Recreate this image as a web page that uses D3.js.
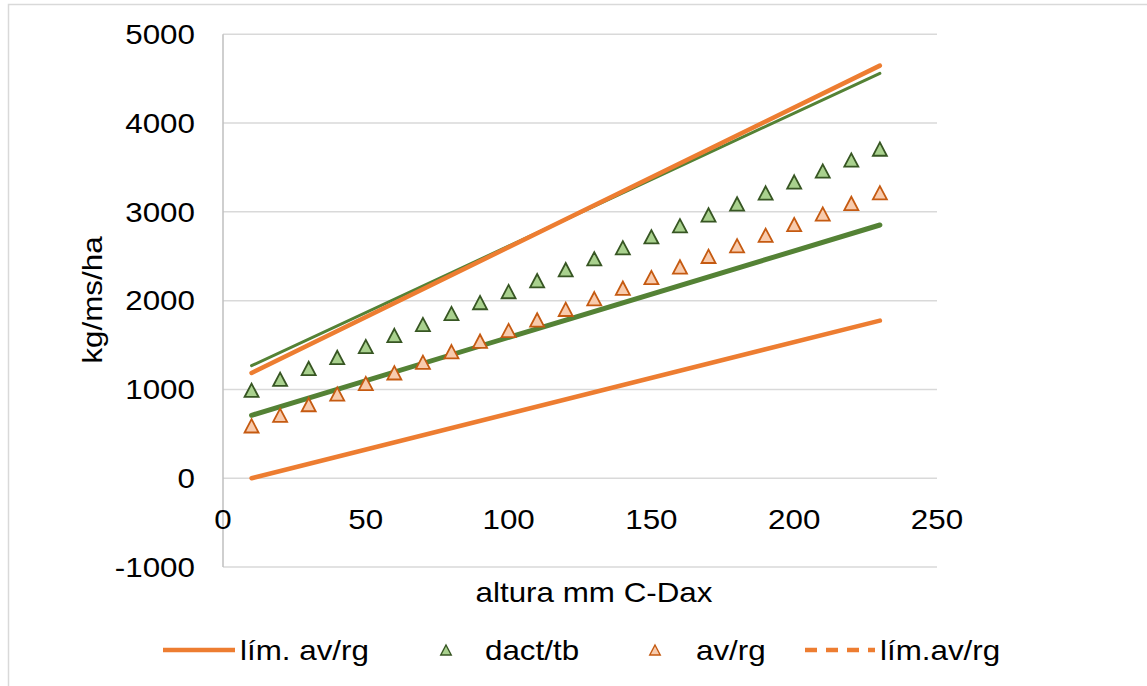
<!DOCTYPE html>
<html>
<head>
<meta charset="utf-8">
<script src="https://cdn.jsdelivr.net/npm/d3@7"></script>
<style>
  html, body { margin: 0; padding: 0; background: #fff; }
  svg { display: block; font-family: "Liberation Sans", Arial, sans-serif; }
</style>
</head>
<body>
<svg id="chart" width="1147" height="686"></svg>
<script>
// Plant height (mm, C-Dax) against dry matter (kg/ms/ha)
const heights = [10, 20, 30, 40, 50, 60, 70, 80, 90, 100, 110, 120,
                 130, 140, 150, 160, 170, 180, 190, 200, 210, 220, 230];
const dactTb = [990, 1114, 1237, 1361, 1484, 1608, 1731, 1855, 1978, 2102, 2225, 2349,
                2472, 2596, 2719, 2843, 2966, 3090, 3213, 3337, 3460, 3584, 3707];
const avRg = [590, 709, 829, 948, 1067, 1187, 1306, 1425, 1544, 1664, 1783, 1902,
              2022, 2141, 2260, 2380, 2499, 2618, 2737, 2857, 2976, 3095, 3215];

// Limit lines, given at their two ends
const limitX = [10, 230];
const limAvRgLow = [0, 1775];
const limAvRgHigh = [1186, 4647];
const limDactLow = [709, 2852];
const limDactHigh = [1267, 4561];

const xTicks = [0, 50, 100, 150, 200, 250];
const yTicks = [-1000, 0, 1000, 2000, 3000, 4000, 5000];
const legendLabels = ["lím. av/rg", "dact/tb", "av/rg", "lím.av/rg"];
const xTitle = "altura mm C-Dax";
const yTitle = "kg/ms/ha";

const ORANGE = "#ED7D31";
const GREEN = "#548235";
const FONT_SIZE = 28;
const STRETCH = 1.12;   // text is set slightly wide

const svg = d3.select("#chart");

// text helper: places a (horizontally widened) label at x,y
function label(parent, px, py, str, anchor, angle) {
  parent.append("text")
    .attr("transform", `translate(${px},${py}) rotate(${angle || 0}) scale(${STRETCH},1)`)
    .attr("dy", "0.35em")
    .attr("text-anchor", anchor || "start")
    .attr("font-size", FONT_SIZE)
    .attr("fill", "#000")
    .text(str);
}

// chart frame
svg.append("rect")
  .attr("x", 8.5).attr("y", 4.5)
  .attr("width", 1150).attr("height", 690)
  .attr("fill", "#fff").attr("stroke", "#D9D9D9").attr("stroke-width", 1.5);

const x = d3.scaleLinear().domain([0, 250]).range([223, 937]);
const y = d3.scaleLinear().domain([-1000, 5000]).range([567, 34.3]);

// horizontal gridlines
svg.append("g")
  .selectAll("line")
  .data(yTicks)
  .join("line")
  .attr("x1", x(0)).attr("x2", x(250))
  .attr("y1", d => y(d)).attr("y2", d => y(d))
  .attr("stroke", "#D9D9D9").attr("stroke-width", 1.5);

// vertical axis line
svg.append("line")
  .attr("x1", x(0)).attr("x2", x(0))
  .attr("y1", y(5000)).attr("y2", y(-1000))
  .attr("stroke", "#BFBFBF").attr("stroke-width", 1.5);

// tick labels
const yLab = svg.append("g");
yTicks.forEach(t => label(yLab, 195, y(t), t, "end"));
const xLab = svg.append("g");
xTicks.forEach(t => label(xLab, x(t), 519, t, "middle"));

// axis titles
label(svg, 594, 592, xTitle, "middle");
label(svg, 92, 300, yTitle, "middle", -90);

// limit lines
const line = d3.line().x(d => x(d[0])).y(d => y(d[1]));
const limits = [
  { vals: limAvRgLow, color: ORANGE, w: 4.5 },
  { vals: limDactLow, color: GREEN, w: 5 },
  { vals: limDactHigh, color: GREEN, w: 3 },
  { vals: limAvRgHigh, color: ORANGE, w: 4.5 }
];
svg.append("g")
  .selectAll("path")
  .data(limits)
  .join("path")
  .attr("d", d => line(limitX.map((h, i) => [h, d.vals[i]])))
  .attr("fill", "none")
  .attr("stroke", d => d.color)
  .attr("stroke-width", d => d.w)
  .attr("stroke-linecap", "round");

// triangle markers
function tri(cx, cy, s) {
  const h = s * 0.95;
  return `M${cx},${cy - h / 2}L${cx + s / 2},${cy + h / 2}L${cx - s / 2},${cy + h / 2}Z`;
}
const markerSets = [
  { vals: dactTb, fill: "#A9D18E", stroke: "#375623" },
  { vals: avRg, fill: "#F8CBAD", stroke: "#C55A11" }
];
markerSets.forEach(s => {
  svg.append("g")
    .selectAll("path")
    .data(heights.map((h, i) => [h, s.vals[i]]))
    .join("path")
    .attr("d", d => tri(x(d[0]), y(d[1]), 14))
    .attr("fill", s.fill)
    .attr("stroke", s.stroke)
    .attr("stroke-width", 1.8)
    .attr("stroke-linejoin", "miter");
});

// legend
const ly = 650;
const lg = svg.append("g");
lg.append("line").attr("x1", 163).attr("x2", 235).attr("y1", ly).attr("y2", ly)
  .attr("stroke", ORANGE).attr("stroke-width", 4.5);
label(lg, 240, ly, legendLabels[0]);
lg.append("path").attr("d", tri(446, ly, 10.5))
  .attr("fill", "#A9D18E").attr("stroke", "#375623").attr("stroke-width", 1.4);
label(lg, 485, ly, legendLabels[1]);
lg.append("path").attr("d", tri(655, ly, 10.5))
  .attr("fill", "#F8CBAD").attr("stroke", "#C55A11").attr("stroke-width", 1.4);
label(lg, 696, ly, legendLabels[2]);
lg.append("line").attr("x1", 805).attr("x2", 875).attr("y1", ly).attr("y2", ly)
  .attr("stroke", ORANGE).attr("stroke-width", 4.5).attr("stroke-dasharray", "12,9");
label(lg, 880, ly, legendLabels[3]);
</script>
</body>
</html>
